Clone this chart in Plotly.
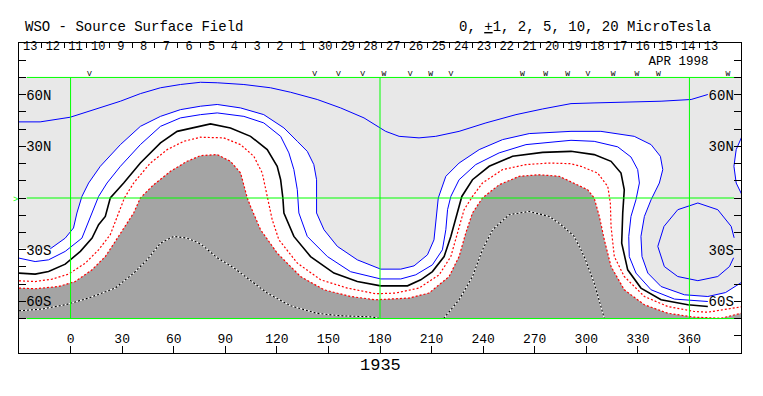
import plotly.graph_objects as go

FONT = "Liberation Mono"
LIGHT = "#e8e8e8"
DARK = "#a4a4a4"
GREEN = "#00ff00"
BLUE = "#0000ff"
RED = "#ff0000"

# ---------------- data (longitude / latitude read from the map) ----------------
# +5 contour (upper blue)
p5_lon = [-30, -17.7, -0.2, 17.3, 29.0, 40.6, 52.3, 63.9, 75.6, 85.3, 100.8, 116.3, 128.0, 143.5, 157.1,
          170.7, 180.4, 183.3, 191.1, 202.7, 212.4, 226.0, 241.6, 259.1, 274.6, 291.1, 304.5, 324.1, 343.5,
          361.0, 370.7]
p5_lat = [44.2, 44.2, 46.9, 52.3, 56.2, 60.6, 64.0, 65.9, 67.2, 66.9, 65.9, 64.0, 61.4, 57.2, 52.3,
          46.5, 40.1, 38.7, 35.8, 34.9, 35.8, 38.7, 43.6, 48.4, 51.7, 54.8, 55.2, 55.8, 56.2,
          57.2, 60.1]

# +2 contour (outer blue, edge of light shading)
p2_lon = [-30, -20.6, -11.8, -3.1, 1.7, 3.7, 6.6, 10.5, 17.3, 29.0, 40.6, 52.3, 63.9, 75.6, 85.3, 98.9,
          112.4, 124.1, 131.9, 137.7, 141.5, 143.1, 143.1, 147.4, 155.2, 166.8, 180.4, 192.1, 199.8, 207.6,
          211.4, 212.4, 213.9, 218.3, 226.0, 237.7, 251.3, 266.8, 291.1, 308.5, 327.9, 337.7, 343.1, 344.5,
          342.5, 337.7, 333.8, 331.8, 332.4, 335.8, 343.5, 357.1, 370.7, 381.0, 386.2, 390]
p2_lat = [-28.9, -30.1, -29.5, -23.3, -17.4, -8.7, 0.9, 8.7, 18.4, 31.0, 41.6, 47.4, 51.3, 53.3, 54.3, 52.3,
          48.4, 40.7, 32.9, 27.1, 19.4, 10.6, -8.7, -18.4, -28.1, -35.9, -41.3, -41.3, -39.4, -33.0,
          -24.3, -12.8, 0.0, 12.6, 20.3, 28.1, 33.9, 37.4, 38.7, 38.7, 35.8, 31.0, 24.2, 16.5,
          8.7, -1.0, -10.7, -22.3, -34.0, -43.6, -51.4, -56.2, -57.2, -54.9, -51.7, -49.2]

# +2 contour, small piece at the right edge
p2b_lon = [391, 387.2, 385.9, 387.2, 391]
p2b_lat = [36.8, 28.1, 18.4, 8.7, 0.9]

# +1 contour (inner blue)
p1_lon = [-30, -20.6, -12.8, -3.1, 6.6, 9.6, 13.4, 16.3, 21.2, 29.0, 40.6, 52.3, 63.9, 75.6, 85.3, 100.8,
          112.4, 122.2, 127.0, 129.9, 131.9, 132.8, 137.7, 149.4, 162.9, 180.4, 192.1, 200.8, 210.5, 216.3,
          218.3, 219.3, 221.2, 226.0, 235.7, 249.3, 264.9, 291.1, 304.6, 318.3, 326.0, 329.9, 330.9, 328.9,
          326.0, 324.7, 325.0, 328.9, 337.7, 351.3, 370.7]
p1_lat = [-34.9, -36.9, -35.9, -31.0, -23.3, -15.5, -6.8, 0.9, 8.7, 18.4, 31.0, 41.6, 46.5, 48.4, 49.4, 47.4,
          43.6, 35.8, 26.2, 16.5, 4.8, -8.7, -22.3, -34.0, -42.8, -47.0, -47.0, -44.6, -38.8, -30.1,
          -18.4, -6.8, 0.9, 10.6, 19.4, 26.2, 31.0, 33.5, 32.9, 29.7, 23.8, 16.5, 8.7, -1.0,
          -10.7, -22.3, -34.0, -43.6, -53.3, -58.7, -60.1]

# 0 contour (neutral line)
n0_lon = [-30, -20.6, -12.8, -3.1, 5.7, 12.5, 16.3, 20.2, 23.1, 30.9, 40.6, 52.3, 62.0, 75.6, 81.4, 93.0,
          104.7, 114.4, 120.2, 122.2, 123.5, 124.1, 129.9, 139.6, 153.2, 166.8, 180.4, 196.0, 203.7, 210.5,
          217.3, 221.2, 225.1, 227.6, 233.8, 243.5, 257.1, 274.6, 291.1, 304.6, 314.4, 320.2, 322.1, 321.2,
          320.6, 324.1, 331.8, 343.5, 359.1, 370.7]
n0_lat = [-43.6, -44.2, -42.7, -38.4, -31.0, -23.3, -15.5, -10.7, 0.0, 8.7, 20.3, 32.0, 38.7, 41.6, 43.0, 40.7,
          35.8, 28.1, 18.4, 10.6, 0.0, -8.7, -22.3, -34.0, -43.6, -48.5, -51.0, -51.0, -47.5, -42.7,
          -34.0, -22.3, -8.7, 0.9, 10.6, 18.4, 24.2, 26.5, 27.1, 25.2, 21.3, 14.5, 4.8, -8.7,
          -26.2, -41.7, -52.3, -59.1, -62.0, -63.0]

# -1 contour (red)
m1_lon = [-30, -20.6, -10.8, -1.2, 8.6, 16.3, 23.1, 27.0, 31.3, 36.7, 46.4, 56.2, 65.8, 75.6, 89.1, 98.9,
          106.6, 111.5, 114.4, 117.3, 121.2, 131.9, 145.5, 161.0, 177.5, 189.1, 202.7, 214.4, 221.2, 225.1,
          228.9, 233.8, 239.6, 251.3, 264.9, 278.4, 291.1, 296.9, 306.6, 312.5, 314.0, 314.4, 316.3, 322.1,
          333.8, 347.4, 362.9, 370.7, 380.4, 390]
m1_lat = [-48.1, -48.5, -47.1, -44.2, -37.8, -30.1, -21.3, -10.7, 0.0, 8.7, 20.3, 28.1, 32.9, 35.3, 34.9, 31.0,
          24.2, 14.5, 0.0, -12.6, -24.3, -37.8, -47.5, -52.3, -55.6, -55.2, -52.3, -44.6, -34.0, -20.3,
          -6.8, 0.9, 8.7, 16.5, 19.4, 20.3, 19.9, 18.4, 14.5, 6.7, -2.9, -16.5, -34.0, -45.6,
          -57.2, -63.0, -65.9, -66.3, -64.9, -63.2]

# -2 contour (red, edge of dark shading)
m2_lon = [-30, -20.6, -7.0, 2.7, 12.5, 20.2, 26.0, 36.7, 40.6, 48.3, 58.1, 67.8, 75.6, 85.3, 93.0, 98.9,
          102.8, 104.7, 110.5, 120.2, 133.8, 147.4, 162.9, 177.5, 196.9, 208.5, 220.2, 226.0, 229.9, 233.8,
          239.6, 249.3, 261.0, 272.6, 284.3, 293.0, 300.8, 304.6, 307.6, 310.5, 314.4, 322.1, 333.8, 347.4,
          362.9, 378.5, 390]
m2_lat = [-52.3, -52.7, -51.4, -48.5, -41.7, -34.0, -25.2, -8.7, 0.0, 7.7, 15.5, 21.3, 24.6, 25.2, 21.3, 14.5,
          0.0, -4.9, -18.4, -32.0, -45.6, -53.3, -57.2, -59.1, -58.1, -55.2, -45.6, -34.0, -20.3, -8.7,
          0.0, 7.7, 12.6, 13.5, 12.6, 8.7, 4.8, 0.0, -10.7, -24.3, -39.8, -53.3, -62.0, -66.9,
          -69.2, -69.8, -66.9]

# -5 contour (dotted, inside dark shading), two pieces
m5a_lon = [-30, -16.7, -3.1, 10.5, 26.0, 36.7, 44.5, 52.3, 60.0, 67.8, 75.6, 85.3, 94.9, 104.7, 114.4,
           128.0, 143.5, 157.1, 174.6, 180.4]
m5a_lat = [-65.5, -64.5, -62.0, -58.1, -52.3, -43.6, -35.9, -26.2, -22.3, -23.3, -26.6, -34.7, -40.5, -48.1, -55.2,
           -62.6, -67.0, -68.4, -69.0, -70.0]
m5b_lon = [217.0, 226.0, 233.8, 239.6, 245.5, 255.1, 266.8, 278.4, 285.3, 293.0, 298.8, 304.6, 310.5]
m5b_lat = [-70.0, -59.1, -45.6, -30.1, -18.4, -9.7, -7.8, -10.7, -15.5, -22.3, -34.0, -49.4, -70.0]

# closed +5 loop at lower right (gap where the "30S" label sits)
c5_lon = [341.6, 345.2, 353.2, 364.9, 376.5, 384.3, 386.0, None, 385.7, 383.3, 376.5, 364.9, 353.2, 345.4, 341.6]
c5_lat = [-28.1, -16.5, -6.8, -2.9, -6.8, -16.5, -23.1, None, -34.7, -39.8, -45.6, -48.0, -45.6, -39.8, -28.1]

# axis ticks / labels
lon_ticks = [0, 30, 60, 90, 120, 150, 180, 210, 240, 270, 300, 330, 360]
lon_labels = ["0", "30", "60", "90", "120", "150", "180", "210", "240", "270", "300", "330", "360"]
lat_ticks = [-80, -70, -60, -50, -40, -30, -20, -10, 0, 10, 20, 30, 40, 50, 60, 70, 80]
lat_labels = ["", "", "60S", "", "", "30S", "", "", "", "", "", "30N", "", "", "60N", "", ""]

day_lon = [-23.5, -10.3, 2.9, 16.1, 29.3, 42.5, 55.7, 68.9, 82.1, 95.3, 108.5, 121.7, 134.9, 148.1, 161.3,
           174.5, 187.7, 200.9, 214.1, 227.3, 240.5, 253.7, 266.9, 280.1, 293.3, 306.5, 319.7, 332.9, 346.1,
           359.3, 372.5]
day_labels = ["13", "12", "11", "10", "9", "8", "7", "6", "5", "4", "3", "2", "1", "30", "29",
              "28", "27", "26", "25", "24", "23", "22", "21", "20", "19", "18", "17", "16", "15",
              "14", "13"]
day_sep_lon = [-16.9, -3.7, 9.5, 22.7, 35.9, 49.1, 62.3, 75.5, 88.7, 101.9, 115.1, 128.3, 141.5, 154.7, 167.9,
               181.1, 194.3, 207.5, 220.7, 233.9, 247.1, 260.3, 273.5, 286.7, 299.9, 313.1, 326.3, 339.5, 352.7,
               365.9, 379.1]

sector_lon = [10.9, 142.0, 155.8, 169.9, 182.3, 197.5, 209.5, 221.2, 262.9, 276.3, 289.2, 300.9, 315.7,
              329.5, 341.9, 382.4]
sector_sym = ["V", "V", "V", "V", "W", "V", "W", "V", "W", "W", "W", "V", "W", "W", "W", "W"]

grid_lon = [0, 180, 360]
grid_lat = [-70, 0, 70]

fig = go.Figure()

# ---------------- shading ----------------
fig.add_trace(go.Scatter(x=p2_lon + [390, -30], y=p2_lat + [-70, -70], fill="toself", fillcolor="white",
                         mode="lines", line=dict(width=0), hoverinfo="skip", showlegend=False))
fig.add_trace(go.Scatter(x=p2b_lon, y=p2b_lat, fill="toself", fillcolor="white",
                         mode="lines", line=dict(width=0), hoverinfo="skip", showlegend=False))
fig.add_trace(go.Scatter(x=m2_lon + [390, -30], y=m2_lat + [-70, -70], fill="toself", fillcolor=DARK,
                         mode="lines", line=dict(width=0), hoverinfo="skip", showlegend=False))


def line(x, y, color, width=1.0, dash="solid"):
    fig.add_trace(go.Scatter(x=x, y=y, mode="lines", line=dict(color=color, width=width, dash=dash),
                             connectgaps=False, hoverinfo="skip", showlegend=False))


line(p5_lon, p5_lat, BLUE)
line(p2_lon[2:], p2_lat[2:], BLUE)
line(p2b_lon, p2b_lat, BLUE)
line(p1_lon, p1_lat, BLUE)
line(c5_lon, c5_lat, BLUE)
line(n0_lon, n0_lat, "black", 1.6)
line(m1_lon, m1_lat, RED, 1.2, "2px,2px")
line(m2_lon, m2_lat, RED, 1.2, "2px,2px")
for xs, ys in ((m5a_lon, m5a_lat), (m5b_lon, m5b_lat)):
    line(xs, ys, "white", 1.1)
    line(xs, ys, "black", 1.1, "2px,2px")

# ---------------- text in the strips ----------------
fig.add_trace(go.Scatter(x=day_lon, y=[87.4] * len(day_lon), mode="text", text=day_labels,
                         textfont=dict(family=FONT, size=12, color="black"), hoverinfo="skip",
                         showlegend=False, cliponaxis=False))
fig.add_trace(go.Scatter(x=sector_lon, y=[72.0] * len(sector_lon), mode="text", text=sector_sym,
                         textfont=dict(family=FONT, size=8, color="black"), hoverinfo="skip",
                         showlegend=False, cliponaxis=False))
fig.add_trace(go.Scatter(x=[353.7], y=[79.0], mode="text", text=["APR 1998"], xaxis="x2", yaxis="y2",
                         textfont=dict(family=FONT, size=12.5, color="black"), hoverinfo="skip",
                         showlegend=False, cliponaxis=False))

shapes = [dict(type="rect", xref="x", yref="y", x0=-30, x1=390, y0=-70, y1=70, fillcolor=LIGHT,
               line=dict(width=0), layer="below")]
for g in grid_lon:
    shapes.append(dict(type="line", xref="x", yref="y", x0=g, x1=g, y0=-70, y1=70,
                       line=dict(color=GREEN, width=1), layer="above"))
for g in grid_lat:
    shapes.append(dict(type="line", xref="x", yref="y", x0=-25.5, x1=386, y0=g, y1=g,
                       line=dict(color=GREEN, width=1), layer="above"))

annotations = [
    dict(text="WSO - Source Surface Field", xref="paper", yref="paper", x=0.0055, y=1.05,
         xanchor="left", yanchor="middle", showarrow=False, font=dict(family=FONT, size=14, color="black")),
    dict(text="0, <u>+</u>1, 2, 5, 10, 20 MicroTesla", xref="paper", yref="paper", x=0.6066, y=1.05,
         xanchor="left", yanchor="middle", showarrow=False, font=dict(family=FONT, size=14, color="black")),
    dict(text="1935", xref="paper", yref="paper", x=0.5, y=-0.040, xanchor="center", yanchor="middle",
         showarrow=False, font=dict(family=FONT, size=17, color="black")),
    dict(text=">", xref="paper", yref="y", x=-0.0045, y=-1, xanchor="center", yanchor="middle",
         showarrow=False, font=dict(family=FONT, size=9, color=GREEN)),
]

axis_common = dict(showgrid=False, zeroline=False, ticks="inside", tickcolor="black", tickwidth=1)

# the page body adds an 8px offset, so the figure is 8px smaller and margins shifted
fig.update_layout(
    width=755, height=388,
    margin=dict(l=11, r=22, t=35, b=43, pad=0),
    paper_bgcolor="white", plot_bgcolor="white",
    shapes=shapes, annotations=annotations,
    xaxis=dict(range=[-30, 390], showline=True, linecolor="black", linewidth=1, mirror=True,
               ticklen=7, tickvals=lon_ticks, ticktext=lon_labels, ticklabelposition="inside",
               tickfont=dict(family=FONT, size=13, color="black"), **axis_common),
    xaxis2=dict(range=[-30, 390], overlaying="x", side="top", anchor="y", ticklen=5,
                tickvals=day_sep_lon, showticklabels=False, showline=False, **axis_common),
    yaxis=dict(range=[-90, 90], showline=True, linecolor="black", linewidth=1, mirror=True,
               ticklen=7, tickvals=lat_ticks, ticktext=lat_labels, ticklabelposition="inside",
               tickfont=dict(family=FONT, size=14, color="black"), **axis_common),
    yaxis2=dict(range=[-90, 90], overlaying="y", side="right", anchor="x", ticklen=7,
                tickvals=lat_ticks, ticktext=lat_labels, ticklabelposition="inside", showline=False,
                tickfont=dict(family=FONT, size=14, color="black"), **axis_common),
)

fig.write_html("out.html")
